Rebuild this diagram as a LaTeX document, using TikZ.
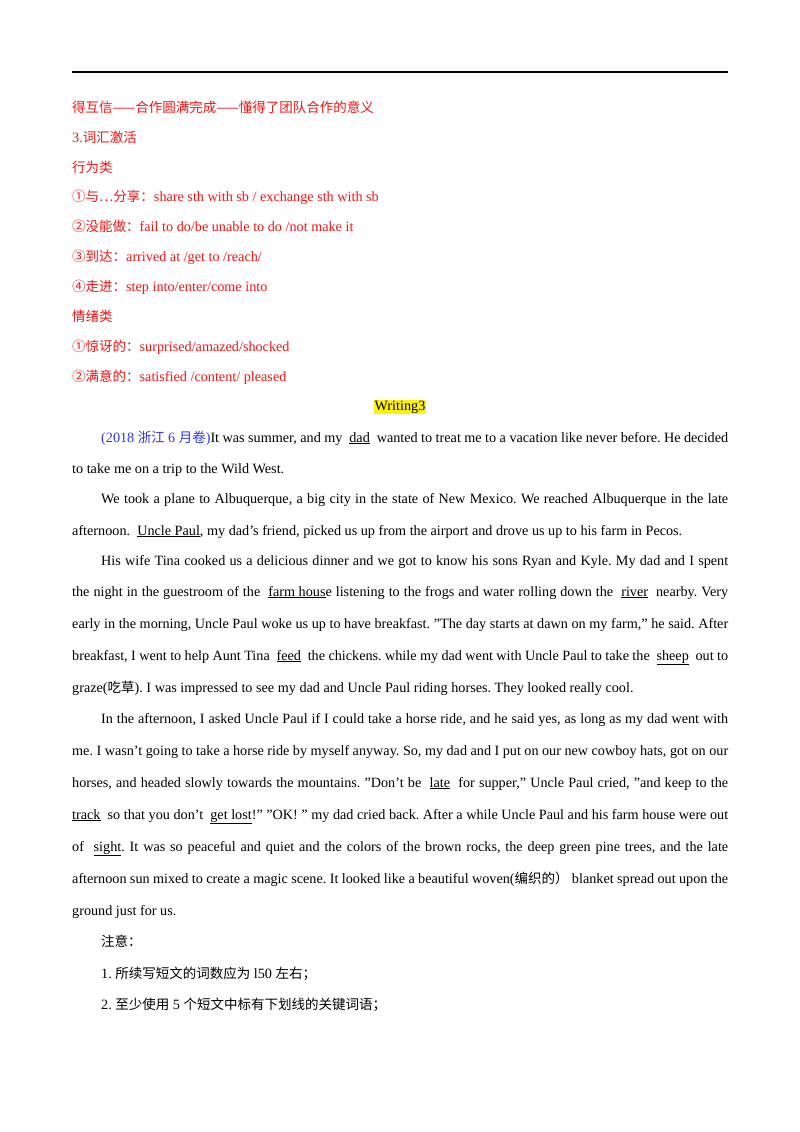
\documentclass[tikz,border=0pt]{standalone}
\usepackage{fontspec}
\setmainfont{Liberation Serif}
\newfontfamily\cjk{Noto Sans CJK SC}
\frenchspacing
\XeTeXinterchartokenstate=1
\newXeTeXintercharclass\CJKcls
\makeatletter
\count@="4E00
\loop\ifnum\count@<"9FFF \XeTeXcharclass\count@=\CJKcls \advance\count@ by 1 \repeat
\count@="3000
\loop\ifnum\count@<"3040 \XeTeXcharclass\count@=\CJKcls \advance\count@ by 1 \repeat
\count@="FF00
\loop\ifnum\count@<"FFF0 \XeTeXcharclass\count@=\CJKcls \advance\count@ by 1 \repeat
\XeTeXcharclass"2460=\CJKcls \XeTeXcharclass"2461=\CJKcls \XeTeXcharclass"2462=\CJKcls \XeTeXcharclass"2463=\CJKcls
\XeTeXcharclass"2026=\CJKcls \XeTeXcharclass"2014=\CJKcls
\makeatother
\XeTeXinterchartoks 0 \CJKcls = {\begingroup\cjk\fontsize{13.5}{15}\selectfont}
\XeTeXinterchartoks 4095 \CJKcls = {\begingroup\cjk\fontsize{13.5}{15}\selectfont}
\XeTeXinterchartoks \CJKcls 0 = {\endgroup}
\XeTeXinterchartoks \CJKcls 4095 = {\endgroup}
\definecolor{rd}{RGB}{240,20,20}
\definecolor{bl}{RGB}{50,50,240}
\newcommand{\uw}[1]{\underline{#1}}
\newcommand{\q}{\symbol{34}}
\tikzset{txt/.style={anchor=base west,inner sep=0pt,font=\fontsize{14.2}{16}\selectfont}}
\begin{document}
\begin{tikzpicture}[x=1pt,y=-1pt]
\useasboundingbox (0,0) rectangle (800,1132);
\draw[line width=1.8pt] (72,72) -- (728,72);
\begin{scope}[every node/.style={txt,text=rd}]
\node (r1) at (72,112) {得互信——合作圆满完成——懂得了团队合作的意义};
\node (r2) at (72,142) {3.词汇激活};
\node (r3) at (72,172) {行为类};
\node (r4) at (72,201) {①与…分享：share sth with sb / exchange sth with sb};
\node (r5) at (72,231) {②没能做：fail to do/be unable to do /not make it};
\node (r6) at (72,261) {③到达：arrived at /get to /reach/};
\node (r7) at (72,291) {④走进：step into/enter/come into};
\node (r8) at (72,321) {情绪类};
\node (r9) at (72,351) {①惊讶的：surprised/amazed/shocked};
\node (r10) at (72,381) {②满意的：satisfied /content/ pleased};
\end{scope}
\node[txt,anchor=base,fill=yellow,inner sep=1pt] (w) at (400,410) {Writing3};
\begin{scope}[every node/.style={txt}]
\node (p1) at (101,442) {\makebox[627pt][s]{{\color{bl}(2018 浙江 6 月卷)}It was summer, and my \ \uw{dad} \ wanted to treat me to a vacation like never before. He decided}};
\node (p2) at (72,473) {to take me on a trip to the Wild West.};
\node (p3) at (101,503) {\makebox[627pt][s]{We took a plane to Albuquerque, a big city in the state of New Mexico. We reached Albuquerque in the late}};
\node (p4) at (72,535) {afternoon. \ \uw{Uncle Paul}, my dad’s friend, picked us up from the airport and drove us up to his farm in Pecos.};
\node (p5) at (101,565) {\makebox[627pt][s]{His wife Tina cooked us a delicious dinner and we got to know his sons Ryan and Kyle. My dad and I spent}};
\node (p6) at (72,596) {\makebox[656pt][s]{the night in the guestroom of the \ \uw{farm hous}e listening to the frogs and water rolling down the \ \uw{river} \ nearby. Very}};
\node (p7) at (72,628) {\makebox[656pt][s]{early in the morning, Uncle Paul woke us up to have breakfast. \q The day starts at dawn on my farm,\q\ he said. After}};
\node (p8) at (72,660) {\makebox[656pt][s]{breakfast, I went to help Aunt Tina \ \uw{feed} \ the chickens. while my dad went with Uncle Paul to take the \ \uw{sheep} \ out to}};
\node (p9) at (72,692) {graze(吃草). I was impressed to see my dad and Uncle Paul riding horses. They looked really cool.};
\node (p10) at (101,723) {\makebox[627pt][s]{In the afternoon, I asked Uncle Paul if I could take a horse ride, and he said yes, as long as my dad went with}};
\node (p11) at (72,755) {\makebox[656pt][s]{me. I wasn’t going to take a horse ride by myself anyway. So, my dad and I put on our new cowboy hats, got on our}};
\node (p12) at (72,787) {\makebox[656pt][s]{horses, and headed slowly towards the mountains. \q Don’t be \ \uw{late} \ for supper,\q\ Uncle Paul cried, \q and keep to the}};
\node (p13) at (72,819) {\makebox[656pt][s]{\uw{track} \ so that you don’t \ \uw{get lost}!\q\ \q OK! \q\ my dad cried back. After a while Uncle Paul and his farm house were out}};
\node (p14) at (72,851) {\makebox[656pt][s]{of \ \uw{sight}. It was so peaceful and quiet and the colors of the brown rocks, the deep green pine trees, and the late}};
\node (p15) at (72,883) {\makebox[656pt][s]{afternoon sun mixed to create a magic scene. It looked like a beautiful woven(编织的） blanket spread out upon the}};
\node (p16) at (72,915) {ground just for us.};
\node (n0) at (101,946) {注意：};
\node (n1) at (101,978) {1. 所续写短文的词数应为 l50 左右；};
\node (n2) at (101,1009) {2. 至少使用 5 个短文中标有下划线的关键词语；};
\end{scope}
\end{tikzpicture}
\end{document}
